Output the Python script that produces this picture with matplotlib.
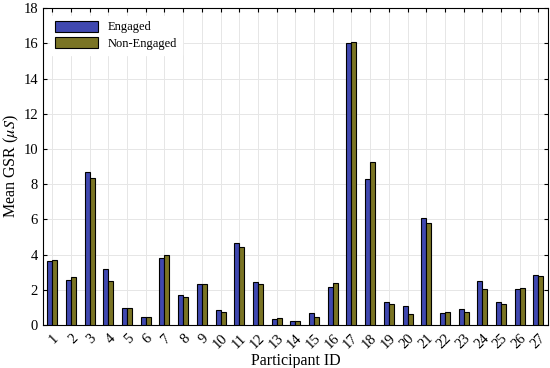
import matplotlib.pyplot as plt
import numpy as np

participants = list(range(1, 28))
engaged = [3.65, 2.55, 8.7, 3.2, 0.95, 0.45, 3.8, 1.7, 2.35, 0.85, 4.65, 2.45, 0.35, 0.22,
           0.7, 2.15, 16.0, 8.3, 1.3, 1.05, 6.1, 0.7, 0.9, 2.5, 1.3, 2.05, 2.85]
non_engaged = [3.7, 2.75, 8.35, 2.5, 0.95, 0.45, 4.0, 1.6, 2.35, 0.75, 4.45, 2.35, 0.4, 0.22,
               0.45, 2.4, 16.1, 9.25, 1.2, 0.6, 5.8, 0.72, 0.75, 2.05, 1.2, 2.1, 2.8]

plt.rcParams['font.family'] = ['Liberation Serif', 'DejaVu Serif']
plt.rcParams['mathtext.fontset'] = 'stix'

fig = plt.figure(figsize=(5.5, 3.68), dpi=100)
ax = fig.add_axes([0.078, 0.117, 0.918, 0.861])

x = np.array(participants)
w = 0.27
ax.bar(x - w / 2, engaged, w, color='#4048b0', edgecolor='black', linewidth=0.8,
       label='Engaged', zorder=3)
ax.bar(x + w / 2, non_engaged, w, color='#7a7424', edgecolor='black', linewidth=0.8,
       label='Non-Engaged', zorder=3)

ax.set_xlim(0.5, 27.5)
ax.set_ylim(0, 18)
ax.set_yticks(range(0, 19, 2))
ax.set_xticks(x)
ax.set_xticklabels([str(p) for p in participants], rotation=45, ha='right',
                   rotation_mode='anchor')
ax.tick_params(direction='in', labelsize=10.5, length=3, top=True, right=True)
ax.tick_params(axis='x', pad=5)
ax.grid(True, color='#e6e6e6', linewidth=0.7, zorder=0)
ax.set_axisbelow(True)
ax.set_xlabel('Participant ID', fontsize=11.5, labelpad=1)
ax.set_ylabel(r'Mean GSR ($\mu S$)', fontsize=11.5, labelpad=2)

leg = ax.legend(loc='upper left', fontsize=9, frameon=True, fancybox=False,
                edgecolor='white', framealpha=1, handlelength=3.4, handleheight=1.0,
                borderaxespad=0.6, labelspacing=0.3)

fig.savefig('out.png', dpi=100)
